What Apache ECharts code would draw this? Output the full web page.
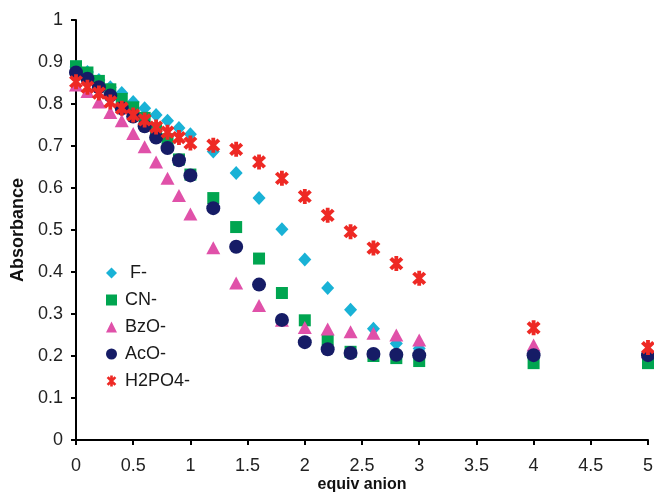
<!DOCTYPE html>
<html><head><meta charset="utf-8">
<script src="https://cdn.jsdelivr.net/npm/echarts@6/dist/echarts.min.js"></script>
<style>html,body{margin:0;padding:0;background:#fff}#c{width:654px;height:493px}</style>
</head><body><div id="c"></div>
<script>
var xValues = [0,0.1,0.2,0.3,0.4,0.5,0.6,0.7,0.8,0.9,1.0,1.2,1.4,1.6,1.8,2.0,2.2,2.4,2.6,2.8,3.0,4,5];
var fMinus  = [0.888,0.876,0.857,0.84,0.826,0.805,0.79,0.774,0.76,0.743,0.728,0.687,0.636,0.576,0.502,0.43,0.362,0.31,0.265,0.23,0.218,0.21,0.205];
var cnMinus = [0.89,0.875,0.855,0.835,0.812,0.792,0.767,0.742,0.716,0.668,0.632,0.576,0.507,0.432,0.35,0.285,0.238,0.21,0.2,0.195,0.188,0.183,0.183];
var bzoMinus= [0.845,0.83,0.805,0.78,0.76,0.73,0.698,0.662,0.623,0.582,0.538,0.458,0.374,0.32,0.285,0.268,0.264,0.258,0.254,0.25,0.238,0.226,0.21];
var acoMinus= [0.875,0.86,0.84,0.82,0.79,0.77,0.747,0.72,0.695,0.666,0.63,0.552,0.46,0.37,0.286,0.233,0.216,0.207,0.205,0.203,0.202,0.202,0.202];
var h2po4Minus=[0.853,0.84,0.826,0.805,0.79,0.774,0.762,0.745,0.733,0.72,0.707,0.702,0.692,0.662,0.623,0.58,0.535,0.496,0.457,0.42,0.385,0.267,0.22];
var xTicks = [0,0.5,1,1.5,2,2.5,3,3.5,4,4.5,5];
var yTicks = [0,0.1,0.2,0.3,0.4,0.5,0.6,0.7,0.8,0.9,1];

var starPath = 'path://M5.3 8.8 L8.8 5.3 L-5.3 -8.8 L-8.8 -5.3 Z M8.8 -5.3 L5.3 -8.8 L-8.8 5.3 L-5.3 8.8 Z M2.4 -10 L-2.4 -10 L-2.4 10 L2.4 10 Z';

function pts(arr){ return xValues.map(function(x,i){ return [x, arr[i]]; }); }

var defs = [
  {name:'F-', data:fMinus, color:'#19B2D6', symbol:'diamond', size:[13,14]},
  {name:'CN-', data:cnMinus, color:'#00A550', symbol:'rect', size:12},
  {name:'BzO-', data:bzoMinus, color:'#E051A9', symbol:'triangle', size:[14,13]},
  {name:'AcO-', data:acoMinus, color:'#161C66', symbol:'circle', size:14},
  {name:'H2PO4-', data:h2po4Minus, color:'#EE2924', symbol:starPath, size:[14,15]}
];
var FONT = 'Liberation Sans, Arial, sans-serif';

var chart = echarts.init(document.getElementById('c'), null, {renderer:'canvas'});
chart.setOption({
  animation:false,
  backgroundColor:'#fff',
  grid:{left:76, right:6, top:20, bottom:53, containLabel:false, outerBoundsMode:'none'},
  legend:{
    orient:'vertical', left:101, top:259, itemGap:9, itemWidth:11, itemHeight:11,
    formatter:function(n){ return n==='F-' ? ' F-' : n; },
    textStyle:{fontFamily:FONT, fontSize:18, color:'#1a1a1a', padding:[0,0,0,3]},
    data:defs.map(function(d){return {name:d.name, icon:d.symbol};})
  },
  xAxis:{
    type:'value', min:0, max:5, interval:0.5,
    name:'equiv anion', nameLocation:'middle', nameGap:37, nameMoveOverlap:false,
    nameTextStyle:{fontFamily:FONT, fontSize:16, fontWeight:'bold', color:'#111'},
    axisLine:{show:true, lineStyle:{color:'#000', width:2}},
    axisTick:{show:true, inside:false, length:5, lineStyle:{color:'#000', width:2}},
    axisLabel:{fontFamily:FONT, fontSize:18, color:'#222', margin:17,
      formatter:function(v){ return xTicks.indexOf(v)>=0 ? String(v) : ''; }},
    splitLine:{show:false}
  },
  yAxis:{
    type:'value', min:0, max:1, interval:0.1,
    name:'Absorbance', nameLocation:'middle', nameGap:49, nameRotate:90, nameMoveOverlap:false,
    nameTextStyle:{fontFamily:FONT, fontSize:18, fontWeight:'bold', color:'#111'},
    axisLine:{show:true, lineStyle:{color:'#000', width:2}},
    axisTick:{show:true, inside:false, length:5, lineStyle:{color:'#000', width:2}},
    axisLabel:{fontFamily:FONT, fontSize:18, color:'#222', margin:13,
      formatter:function(v){ var r=Math.round(v*10)/10; return yTicks.indexOf(r)>=0 ? String(r) : ''; }},
    splitLine:{show:false}
  },
  series: defs.map(function(d){
    return {
      name:d.name, type:'scatter', data:pts(d.data), symbol:d.symbol, symbolSize:d.size,
      itemStyle:{color:d.color, opacity:1}, emphasis:{disabled:true}
    };
  })
});
</script></body></html>
